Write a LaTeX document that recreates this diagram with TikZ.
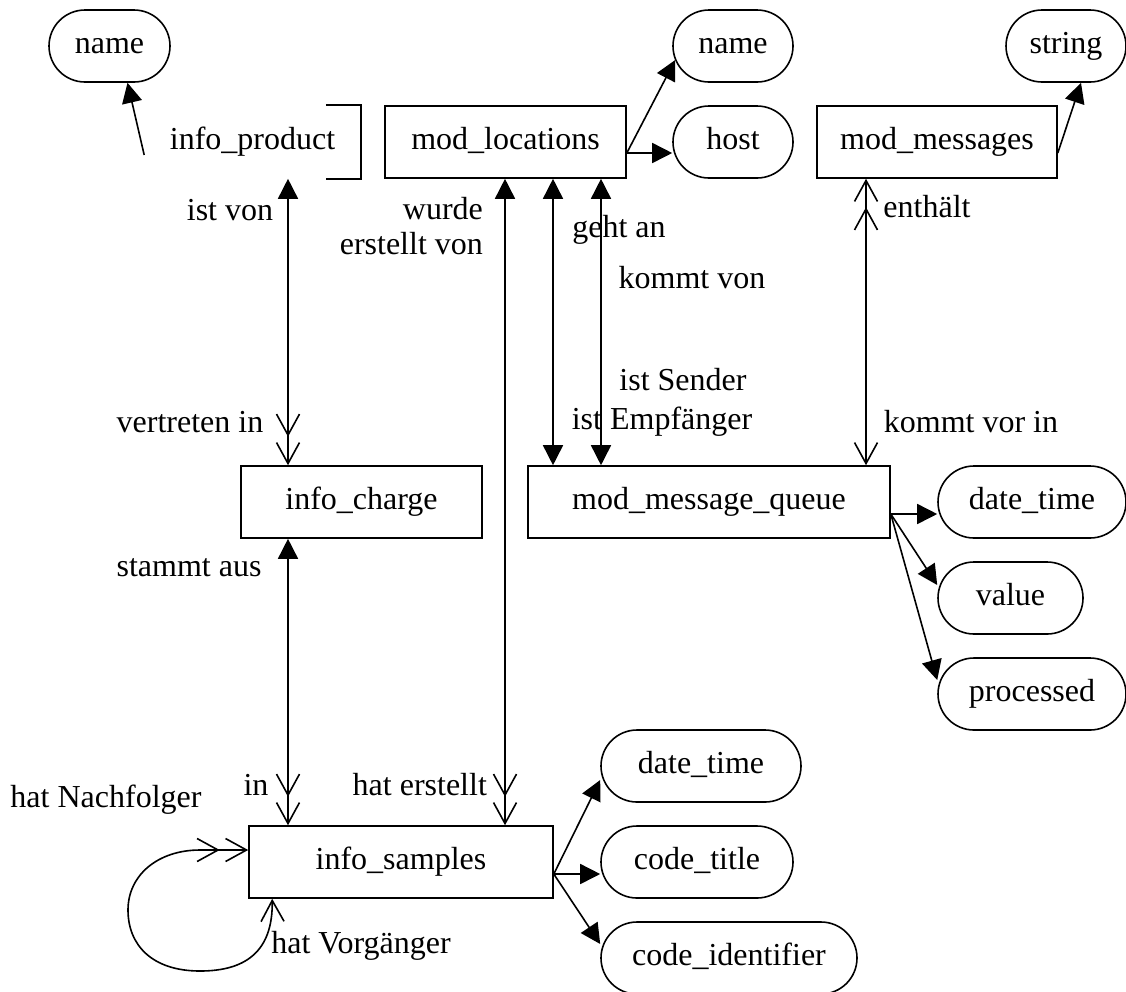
\documentclass[tikz,border=0pt]{standalone}
\usepackage{fontspec}
\setmainfont{Liberation Serif}
\usetikzlibrary{arrows.meta,calc}

\begin{document}
\begin{tikzpicture}[x=1pt,y=-1pt,line width=1.6pt,
		font=\fontsize{32}{35}\selectfont,
		entity/.style={rectangle,draw,minimum height=72pt,text height=22pt,text depth=7pt,inner sep=0pt},
		attrib/.style={entity,rounded corners=36pt},
		ftri/.tip={Triangle[length=20pt,width=20pt]},
		oV/.tip={Straight Barb[length=21pt,width=23pt]},
		oVV/.tip={Straight Barb[length=21pt,width=23pt,sep=5pt] Straight Barb[length=21pt,width=23pt]},
		has/.style={-ftri}]
		\useasboundingbox (0,0) rectangle (1126,991);
		\path (252.5,142) node(product)[entity,draw=none,minimum width=215pt]{info\_product}
		(505.5,142) node(locations)[entity,minimum width=241pt]{mod\_locations}
		(937,142) node(messages)[entity,minimum width=240pt]{mod\_messages}
		(361.5,502) node(charge)[entity,minimum width=241pt]{info\_charge}
		(709,502) node(queue)[entity,minimum width=362pt]{mod\_message\_queue}
		(401,862) node(samples)[entity,minimum width=304pt]{info\_samples};
		\path (109.5,46) node(nameA)[attrib,minimum width=121pt]{name}
		(733,46) node(nameB)[attrib,minimum width=120pt]{name}
		(733,142) node(host)[attrib,minimum width=120pt]{host}
		(1066,46) node(strg)[attrib,minimum width=120pt]{string}
		(1032,502) node(dtQ)[attrib,minimum width=188pt]{date\_time}
		(1010.5,598) node(value)[attrib,minimum width=145pt]{value}
		(1032,694) node(processed)[attrib,minimum width=188pt]{processed}
		(701,766) node(dtS)[attrib,minimum width=200pt]{date\_time}
		(697,862) node(ctitle)[attrib,minimum width=192pt]{code\_title}
		(729,958) node(cident)[attrib,minimum width=256pt]{code\_identifier};
		\draw ($(product.north east)+(-35,0)$) -- (product.north east) -- (product.south east) -- ($(product.south east)+(-35,0)$);
		\draw[has] ($(product.west)+(0,13)$) -- ($(nameA.south)+(18,0)$);
		\draw[has] ($(locations.east)+(0,11)$) -- ($(nameB.west)+(3,14)$);
		\draw[has] ($(locations.east)+(0,11)$) -- ($(host.west)+(0,11)$);
		\draw[has] ($(messages.east)+(0,11)$) -- ($(strg.south)+(15,0)$);
		\draw[has] ($(queue.east)+(0,12)$) -- ($(dtQ.west)+(0,12)$);
		\draw[has] ($(queue.east)+(0,12)$) -- ($(value.west)+(0,-13)$);
		\draw[has] ($(queue.east)+(0,12)$) -- ($(processed.west)+(0,-14)$);
		\draw[has] ($(samples.east)+(0,12)$) -- ($(dtS.west)+(0,14)$);
		\draw[has] ($(samples.east)+(0,12)$) -- ($(ctitle.west)+(0,12)$);
		\draw[has] ($(samples.east)+(0,12)$) -- ($(cident.west)+(0,-14)$);
		\draw[ftri-oVV] (288,0 |- product.south) -- (288,0 |- charge.north);
		\draw[ftri-oVV] (288,0 |- charge.south) -- (288,0 |- samples.north);
		\draw[ftri-oVV] (505,0 |- locations.south) -- (505,0 |- samples.north);
		\draw[ftri-ftri] (553,0 |- locations.south) -- (553,0 |- queue.north);
		\draw[ftri-ftri] (601,0 |- locations.south) -- (601,0 |- queue.north);
		\draw[oVV-oV] (866,0 |- messages.south) -- (866,0 |- queue.north);
		\draw[oV-oVV] ($(samples.south west)+(24,0)$) .. controls (273,952) and (245,971) .. (200,971)
		.. controls (152,971) and (128,945) .. (128,910) .. controls (128,875) and (158,850) .. (200,850)
		-- ($(samples.west)+(0,-12)$);
		\node (lIstVon) at (230,210) {ist von};
		\node (lVertreten) at (190,422) {vertreten in};
		\node (lStammt) at (189,568) {stammt aus};
		\node (lIn) at (256,785) {in};
		\node (lWurde) [anchor=east,align=right] at (487,226) {wurde\\erstellt von};
		\node (lHatErstellt) [anchor=east] at (491,785) {hat erstellt};
		\node (lGehtAn) at (619,230) {geht an};
		\node (lKommtVon) at (692,278) {kommt von};
		\node (lSender) at (683,380) {ist Sender};
		\node (lEmpf) at (662,422) {ist Empfänger};
		\node (lEnthaelt) at (927,207) {enthält};
		\node (lKommtVor) at (971,422) {kommt vor in};
		\node (lNachfolger) at (106,800) {hat Nachfolger};
		\node (lVorgaenger) at (361,946) {hat Vorgänger};
	\end{tikzpicture}
\end{document}
